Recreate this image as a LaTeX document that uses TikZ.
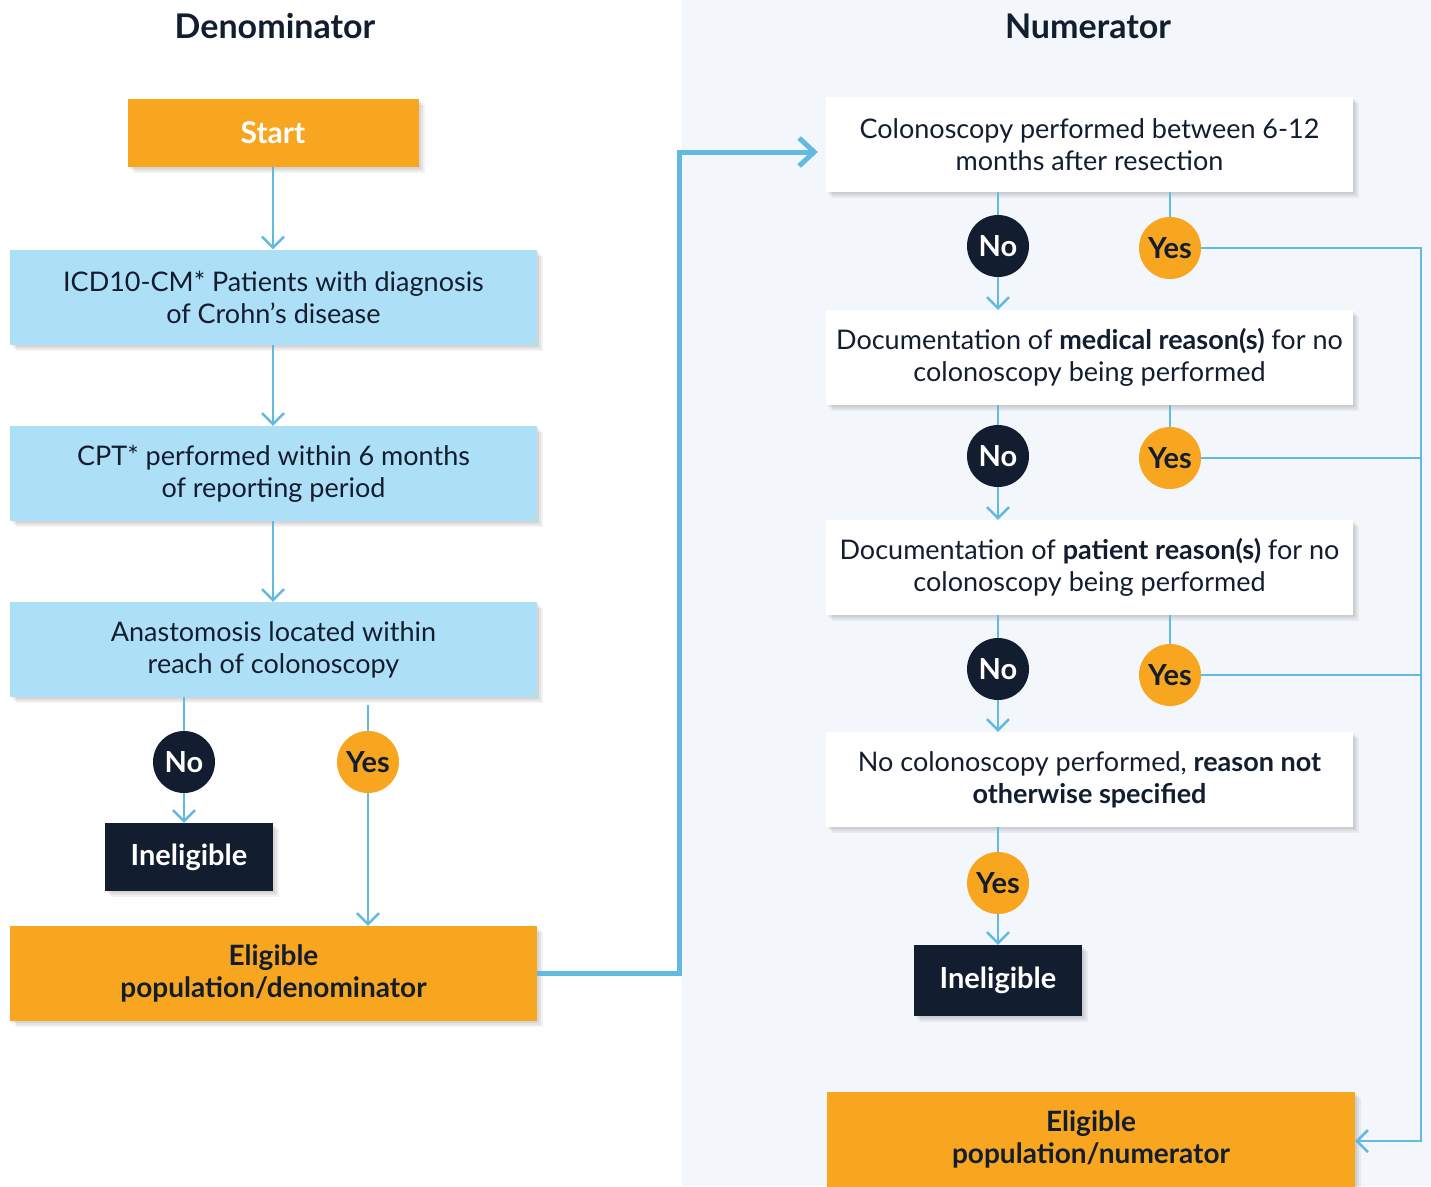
\documentclass[tikz,border=0pt]{standalone}
\usepackage{fontspec}
\setmainfont{Lato}
\usetikzlibrary{arrows.meta,shadows,calc}
\definecolor{orng}{HTML}{F8A61F}
\definecolor{lblue}{HTML}{ADE0F7}
\definecolor{navy}{HTML}{131D30}
\definecolor{lineblue}{HTML}{62BAE1}
\definecolor{bgright}{HTML}{F3F6FA}
\tikzset{
  softshadow/.style={
    general shadow={shadow xshift=2pt,shadow yshift=-2pt,fill=black,opacity=0.06},
    general shadow={shadow xshift=4pt,shadow yshift=-4pt,fill=black,opacity=0.06},
    general shadow={shadow xshift=6pt,shadow yshift=-6pt,fill=black,opacity=0.05}},
  body/.style={font=\fontsize{27}{32}\selectfont, text=navy, align=center},
  wide/.style={body, softshadow, minimum width=527pt, minimum height=95pt, inner sep=0pt},
  bluebox/.style={wide, fill=lblue},
  whitebox/.style={wide, fill=white},
  orangebox/.style={wide, fill=orng, font=\fontsize{28}{32}\selectfont\bfseries},
  startbox/.style={softshadow, fill=orng, text=white, font=\fontsize{30}{34}\selectfont\bfseries, minimum width=291pt, minimum height=68pt},
  inelbox/.style={softshadow, fill=navy, text=white, font=\fontsize{29}{34}\selectfont\bfseries, minimum width=168pt, minimum height=68pt},
  nocirc/.style={circle, fill=navy, text=white, font=\fontsize{29}{34}\selectfont\bfseries, minimum size=62pt, inner sep=0pt},
  yescirc/.style={circle, fill=orng, text=navy, font=\fontsize{29}{34}\selectfont\bfseries, minimum size=62pt, inner sep=0pt},
  link/.style={draw=lineblue, line width=2.5pt},
  arr/.style={link, -{Straight Barb[length=11pt,width=22pt]}},
  bigarr/.style={draw=lineblue, line width=5pt, -{Straight Barb[length=15pt,width=28pt]}},
  title/.style={text=navy, font=\fontsize{34}{40}\selectfont\bfseries}
}
\begin{document}
\begin{tikzpicture}[x=1pt,y=-1pt]
\path[use as bounding box, fill=white] (0,0) rectangle (1431,1186);
\fill[bgright] (682,0) rectangle (1431,1186);

\node[title] (tden) at (275,26) {Denominator};
\node[title] (tnum) at (1088,26) {Numerator};

% left column
\node[startbox] (start) at (273,133) {Start};
\node[bluebox] (icd) at (273.5,297) {ICD10-CM* Patients with diagnosis\\of Crohn’s disease};
\node[bluebox] (cpt) at (273.5,473.5) {CPT* performed within 6 months\\of reporting period};
\node[bluebox] (anas) at (273.5,649.5) {Anastomosis located within\\reach of colonoscopy};
\node[nocirc] (no1) at (184,762) {No};
\node[yescirc] (yes1) at (368,762) {Yes};
\node[inelbox] (inel1) at (189,857) {Ineligible};
\node[orangebox] (elig1) at (273.5,973.5) {Eligible\\population/denominator};

\draw[arr] (start.south) -- (start.south |- icd.north);
\draw[arr] (start.south |- icd.south) -- (start.south |- cpt.north);
\draw[arr] (start.south |- cpt.south) -- (start.south |- anas.north);
\draw[link] (no1 |- anas.south) -- (no1.north);
\draw[arr] (no1.south) -- (no1.south |- inel1.north);
\draw[link] ([yshift=-8pt]yes1 |- anas.south) -- (yes1.north);
\draw[arr] (yes1.south) -- (yes1.south |- elig1.north);

% right column
\node[whitebox] (colo) at (1089.5,144.5) {Colonoscopy performed between 6-12\\months after resection};
\node[nocirc] (no2) at (998,246) {No};
\node[yescirc] (yes2) at (1170,248) {Yes};
\node[whitebox] (med) at (1089.5,357.5) {Documentation of \textbf{medical reason(s)} for no\\colonoscopy being performed};
\node[nocirc] (no3) at (998,456) {No};
\node[yescirc] (yes3) at (1170,458) {Yes};
\node[whitebox] (pat) at (1089.5,567.5) {Documentation of \textbf{patient reason(s)} for no\\colonoscopy being performed};
\node[nocirc] (no4) at (998,669) {No};
\node[yescirc] (yes4) at (1170,675) {Yes};
\node[whitebox] (nos) at (1089.5,779.5) {No colonoscopy performed, \textbf{reason not}\\\textbf{otherwise specified}};
\node[yescirc] (yes5) at (998,883) {Yes};
\node[inelbox, minimum height=71pt] (inel2) at (998,980.5) {Ineligible};
\node[orangebox, minimum width=528pt] (elig2) at (1091,1139) {Eligible\\population/numerator};

\coordinate (turn) at (679,152);
\draw[bigarr, shorten >=8pt] (elig1.east) -| (turn) -- (turn -| colo.west);

\coordinate (rail) at (1421,248);
\draw[link] (no2 |- colo.south) -- (no2.north);
\draw[link] (yes2 |- colo.south) -- (yes2.north);
\draw[arr] (no2.south) -- (no2 |- med.north);
\draw[link] (no3 |- med.south) -- (no3.north);
\draw[link] (yes3 |- med.south) -- (yes3.north);
\draw[arr] (no3.south) -- (no3 |- pat.north);
\draw[link] (no4 |- pat.south) -- (no4.north);
\draw[link] (yes4 |- pat.south) -- (yes4.north);
\draw[arr] (no4.south) -- (no4 |- nos.north);
\draw[link] (yes5 |- nos.south) -- (yes5.north);
\draw[arr] (yes5.south) -- (yes5 |- inel2.north);

\draw[arr] (yes2.east) -- (rail) |- ([yshift=-2pt]elig2.east);
\draw[link] (yes3.east) -- (yes3 -| rail);
\draw[link] (yes4.east) -- (yes4 -| rail);
\end{tikzpicture}
\end{document}
